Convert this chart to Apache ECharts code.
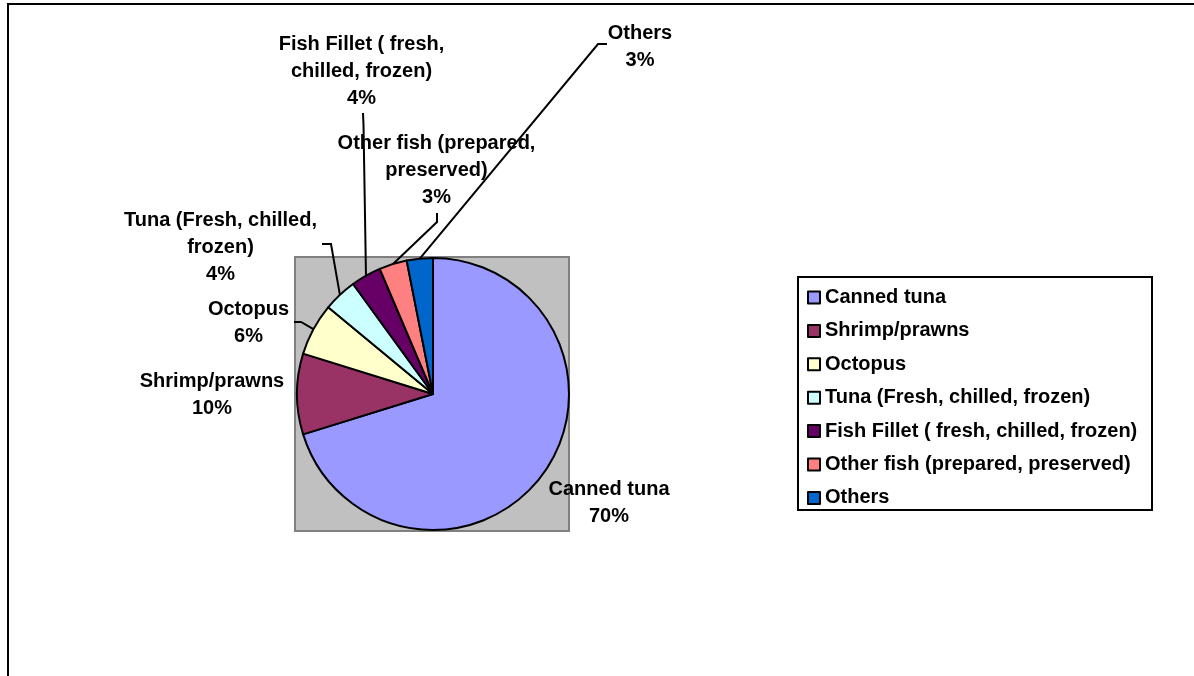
<!DOCTYPE html>
<html>
<head>
<meta charset="utf-8">
<script src="https://cdn.jsdelivr.net/npm/echarts@6/dist/echarts.min.js"></script>
<style>
  html, body { margin: 0; padding: 0; background: #fff; }
  #chart { width: 1194px; height: 676px; }
</style>
</head>
<body>
<div id="chart"></div>
<script>
// ---- data ----
const categories = [
  'Canned tuna',
  'Shrimp/prawns',
  'Octopus',
  'Tuna (Fresh, chilled, frozen)',
  'Fish Fillet ( fresh, chilled, frozen)',
  'Other fish (prepared, preserved)',
  'Others'
];
const shares = [70.2, 9.6, 6.2, 4.0, 3.6, 3.3, 3.1];
const sliceLabels = [
  'Canned tuna',
  'Shrimp/prawns',
  'Octopus',
  'Tuna (Fresh, chilled,\nfrozen)',
  'Fish Fillet ( fresh,\nchilled, frozen)',
  'Other fish (prepared,\npreserved)',
  'Others'
];

// ---- styles / layout ----
const colors = ['#9999FF', '#993366', '#FFFFCC', '#CCFFFF', '#660066', '#FF8080', '#0066CC'];
const FONT = "'Liberation Sans', Arial, Helvetica, sans-serif";
const PIE_C = [433, 394];
const PIE_R = 136;
// label block centres
const labelCenters = [
  [609, 503], [212, 395], [248.5, 323], [220.5, 247],
  [361.5, 71.5], [436.5, 170], [640, 47]
];
// leader lines: [elbow, end] (null = no leader)
const leaders = [
  null, null,
  [[301, 322], [294, 322]],
  [[331, 244], [322, 244]],
  [[363.5, 125], [363, 113]],
  [[437, 222], [437, 213]],
  [[598, 44], [607, 44]]
];

const chart = echarts.init(document.getElementById('chart'), null, { renderer: 'canvas' });

const pieData = categories.map((name, i) => ({
  name: name,
  value: shares[i],
  itemStyle: { color: colors[i] },
  labelLine: { show: leaders[i] !== null }
}));

const option = {
  animation: false,
  backgroundColor: '#ffffff',
  graphic: [
    { type: 'rect', z: -10, silent: true,
      shape: { x: 8, y: 4, width: 1400, height: 900 },
      style: { fill: 'none', stroke: '#000', lineWidth: 2 } },
    { type: 'rect', z: -5, silent: true,
      shape: { x: 295, y: 257, width: 274, height: 274 },
      style: { fill: '#C0C0C0', stroke: '#808080', lineWidth: 2 } },
    { type: 'rect', z: -5, silent: true,
      shape: { x: 798, y: 277, width: 354, height: 233 },
      style: { fill: '#fff', stroke: '#000', lineWidth: 2 } }
  ],
  legend: {
    orient: 'vertical',
    left: 807,
    top: 287.5,
    padding: 0,
    itemWidth: 12,
    itemHeight: 12,
    itemGap: 13.4,
    icon: 'rect',
    selectedMode: false,
    itemStyle: { borderColor: '#000', borderWidth: 2 },
    textStyle: { fontFamily: FONT, fontSize: 20, fontWeight: 'bold', color: '#000', lineHeight: 20 },
    data: categories
  },
  series: [{
    type: 'pie',
    center: PIE_C,
    radius: PIE_R,
    startAngle: 90,
    clockwise: true,
    avoidLabelOverlap: false,
    silent: true,
    emphasis: { disabled: true },
    itemStyle: { borderColor: '#000', borderWidth: 2 },
    label: {
      show: true,
      position: 'outside',
      fontFamily: FONT,
      fontSize: 20,
      fontWeight: 'bold',
      color: '#000',
      lineHeight: 27,
      align: 'center',
      formatter: function (p) {
        return sliceLabels[p.dataIndex] + '\n' + Math.round(p.percent) + '%';
      }
    },
    labelLine: { lineStyle: { color: '#000', width: 2 }, length: 10, length2: 10 },
    labelLayout: function (params) {
      const i = params.dataIndex;
      const c = labelCenters[i];
      const res = { x: c[0], y: c[1], align: 'center', verticalAlign: 'middle' };
      const ld = leaders[i];
      if (ld) {
        let p0 = params.labelLinePoints && params.labelLinePoints[0];
        if (!p0) {
          let before = 0, total = 0;
          shares.forEach((v, k) => { total += v; if (k < i) before += v; });
          const ang = (before + shares[i] / 2) / total * 2 * Math.PI;
          p0 = [PIE_C[0] + PIE_R * Math.sin(ang), PIE_C[1] - PIE_R * Math.cos(ang)];
        }
        res.labelLinePoints = [[p0[0], p0[1]], ld[0], ld[1]];
      }
      return res;
    },
    data: pieData
  }]
};

chart.setOption(option);
</script>
</body>
</html>
